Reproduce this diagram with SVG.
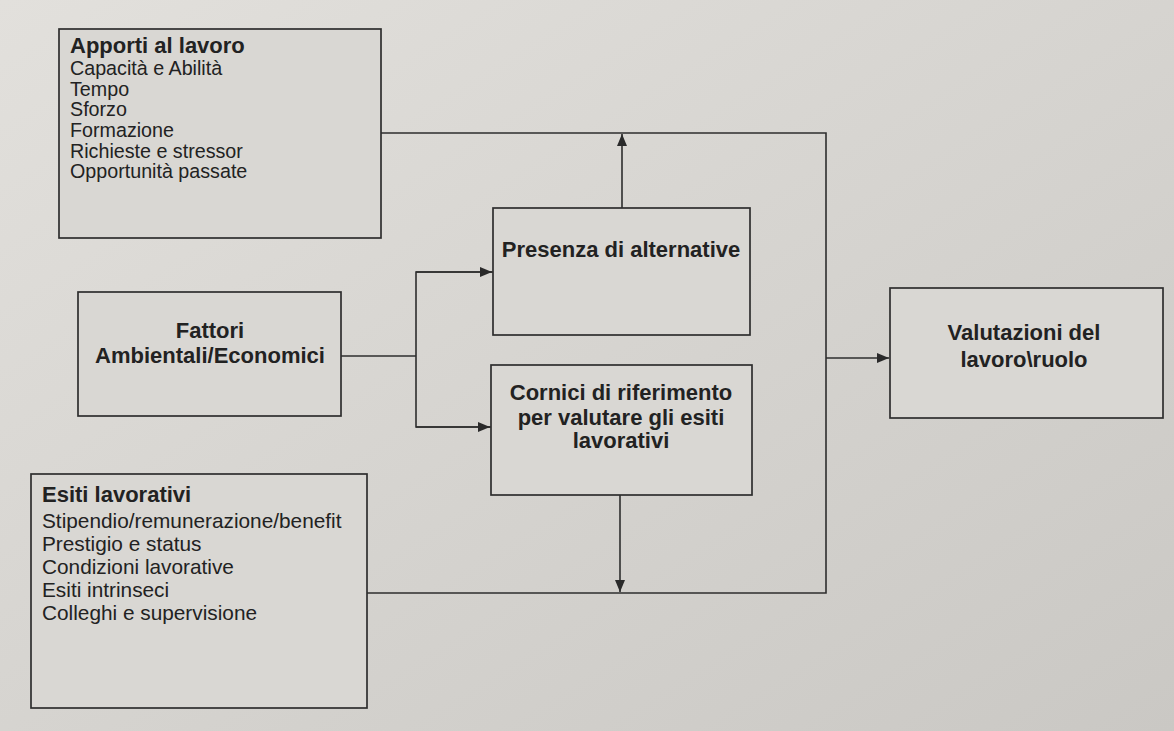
<svg xmlns="http://www.w3.org/2000/svg" width="1174" height="731" viewBox="0 0 1174 731">
<defs>
<linearGradient id="bg" x1="0" y1="0" x2="1" y2="1">
<stop offset="0" stop-color="#e2e0dc"/>
<stop offset="0.5" stop-color="#d6d4d0"/>
<stop offset="1" stop-color="#cac8c4"/>
</linearGradient>
<marker id="arr" viewBox="0 0 12 10" refX="12" refY="5" markerWidth="12" markerHeight="10" markerUnits="userSpaceOnUse" orient="auto">
<path d="M0,0 L12,5 L0,10 z" fill="#2a2a2a"/>
</marker>
<style>
.box{fill:#d9d7d3;stroke:#2e2e2e;stroke-width:1.7}
.ln{fill:none;stroke:#2e2e2e;stroke-width:1.6}
.t{font-family:"Liberation Sans",Arial,sans-serif;fill:#222}
.b{font-weight:bold;font-size:22px}
.r{font-size:19.7px}
.e{font-size:20.8px}
.c{text-anchor:middle}
</style>
</defs>
<rect width="1174" height="731" fill="url(#bg)"/>

<g id="connectors">
<polyline class="ln" points="380,133 826,133 826,593 366,593"/>
<line class="ln" x1="622" y1="208" x2="622" y2="134" marker-end="url(#arr)"/>
<line class="ln" x1="620" y1="495" x2="620" y2="592" marker-end="url(#arr)"/>
<line class="ln" x1="341" y1="356" x2="416" y2="356"/>
<polyline class="ln" points="493,272 416,272 416,427 491,427"/>
<line class="ln" x1="416" y1="272" x2="492" y2="272" marker-end="url(#arr)"/>
<line class="ln" x1="416" y1="427" x2="490" y2="427" marker-end="url(#arr)"/>
<line class="ln" x1="826" y1="358" x2="889" y2="358" marker-end="url(#arr)"/>
</g>

<g id="apporti">
<rect class="box" x="59" y="29" width="322" height="209"/>
<text class="t b" x="70" y="53" font-size="23">Apporti al lavoro</text>
<text class="t r" x="70" y="75">Capacità e Abilità</text>
<text class="t r" x="70" y="96">Tempo</text>
<text class="t r" x="70" y="116">Sforzo</text>
<text class="t r" x="70" y="137">Formazione</text>
<text class="t r" x="70" y="158">Richieste e stressor</text>
<text class="t r" x="70" y="178">Opportunità passate</text>
</g>

<g id="fattori">
<rect class="box" x="78" y="292" width="263" height="124"/>
<text class="t b c" x="210" y="338">Fattori</text>
<text class="t b c" x="210" y="363">Ambientali/Economici</text>
</g>

<g id="esiti">
<rect class="box" x="31" y="474" width="336" height="234"/>
<text class="t b" x="42" y="502" font-size="22.5">Esiti lavorativi</text>
<text class="t e" x="42" y="528">Stipendio/remunerazione/benefit</text>
<text class="t e" x="42" y="551">Prestigio e status</text>
<text class="t e" x="42" y="574">Condizioni lavorative</text>
<text class="t e" x="42" y="597">Esiti intrinseci</text>
<text class="t e" x="42" y="620">Colleghi e supervisione</text>
</g>

<g id="presenza">
<rect class="box" x="493" y="208" width="257" height="127"/>
<text class="t b c" x="621" y="257" font-size="18.8">Presenza di alternative</text>
</g>

<g id="cornici">
<rect class="box" x="491" y="365" width="261" height="130"/>
<text class="t b c" x="621" y="400">Cornici di riferimento</text>
<text class="t b c" x="621" y="425">per valutare gli esiti</text>
<text class="t b c" x="621" y="448">lavorativi</text>
</g>

<g id="valutazioni">
<rect class="box" x="890" y="288" width="273" height="130"/>
<text class="t b c" x="1024" y="340" font-size="23.5">Valutazioni del</text>
<text class="t b c" x="1024" y="367" font-size="23.5">lavoro\ruolo</text>
</g>
</svg>
